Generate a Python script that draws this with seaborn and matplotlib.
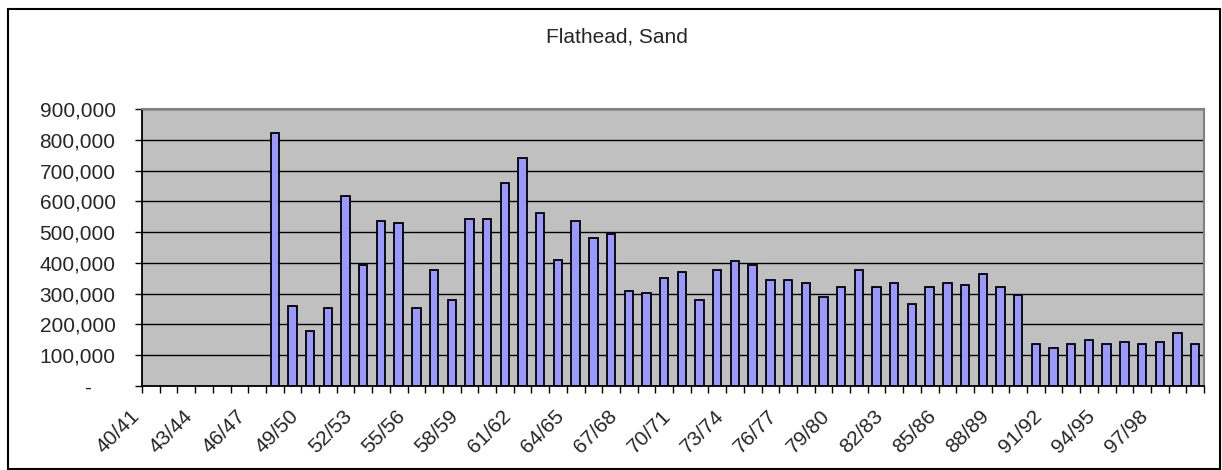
import numpy as np
import pandas as pd
import matplotlib
matplotlib.use("Agg")
import matplotlib.pyplot as plt
import matplotlib.transforms as mtransforms
from matplotlib.patches import Rectangle
import seaborn as sns

# Seasons on the category axis (40/41 .. 99/00)
seasons = [f"{y % 100:02d}/{(y + 1) % 100:02d}" for y in range(1940, 2000)]

# Seasons that have a catch value (47/48 .. 99/00)
catch_seasons = seasons[7:]
catch = [
    823000, 261000, 178000, 254000, 618000, 392000, 535000, 529000, 254000, 377000,
    281000, 542000, 542000, 658000, 741000, 562000, 411000, 535000, 480000, 494000,
    309000, 302000, 350000, 370000, 281000, 377000, 405000, 392000, 343000, 343000,
    336000, 288000, 322000, 377000, 322000, 336000, 267000, 322000, 336000, 329000,
    363000, 322000, 295000, 137000, 123000, 137000, 151000, 137000, 144000, 137000,
    144000, 171000, 137000,
]

# every third season is labelled
tick_labels = seasons[::3]
y_ticks = list(range(0, 900001, 100000))

sns.set_theme(style="white")
plt.rcParams["font.family"] = ["Liberation Sans", "DejaVu Sans"]

df = pd.DataFrame({"season": catch_seasons, "catch": catch})

W, H = 1222, 470
fig = plt.figure(figsize=(W / 100, H / 100), dpi=100)
ax = fig.add_axes([142 / W, (H - 386) / H, (1204 - 142) / W, (386 - 109) / H])

sns.barplot(data=df, x="season", y="catch", order=seasons, ax=ax,
            color="#9999FF", saturation=1, width=0.47,
            edgecolor="black", linewidth=1.3, errorbar=None)

ax.set_facecolor("#C0C0C0")
ax.set_xlim(-0.5, len(seasons) - 0.5)
ax.set_ylim(0, 900000)
ax.set_xlabel("")
ax.set_ylabel("")

# y axis
ax.set_yticks(y_ticks)
ax.set_yticklabels(["-" if v == 0 else f"{v:,}" for v in y_ticks], fontsize=15)
ax.yaxis.grid(True, color="black", linewidth=1)
ax.set_axisbelow(True)
ax.tick_params(axis="y", direction="out", length=5, width=1, color="black",
               pad=14, left=True)
ylabs = ax.get_yticklabels()
ylabs[0].set_transform(ylabs[0].get_transform() +
                       mtransforms.ScaledTranslation(-0.25, 0, fig.dpi_scale_trans))

# x axis: tick marks on category borders, labels on every third category
ax.set_xticks(np.arange(-0.5, len(seasons), 1))
ax.set_xticklabels([])
ax.set_xticks(np.arange(0, len(seasons), 3), minor=True)
ax.set_xticklabels(tick_labels, minor=True, rotation=45, ha="right",
                   va="top", rotation_mode="anchor", fontsize=15)
ax.tick_params(axis="x", which="major", direction="out", length=5, width=1,
               color="black", bottom=True)
ax.tick_params(axis="x", which="minor", length=0, pad=15)
for lab in ax.get_xticklabels(minor=True):
    lab.set_transform(lab.get_transform() +
                      mtransforms.ScaledTranslation(-0.21, 0, fig.dpi_scale_trans))

for side in ["top", "right"]:
    ax.spines[side].set_color("#808080")
    ax.spines[side].set_linewidth(1.5)
for side in ["left", "bottom"]:
    ax.spines[side].set_color("black")
    ax.spines[side].set_linewidth(1.3)

fig.text(617 / W, 1 - 37 / H, "Flathead, Sand", ha="center", va="center", fontsize=15)

# chart area border
fig.patches.append(Rectangle((8 / W, 1 / H), (1220 - 8) / W, (461 - 1) / H,
                             transform=fig.transFigure, fill=False,
                             edgecolor="black", linewidth=1.5))

fig.savefig("out.png", dpi=100)
